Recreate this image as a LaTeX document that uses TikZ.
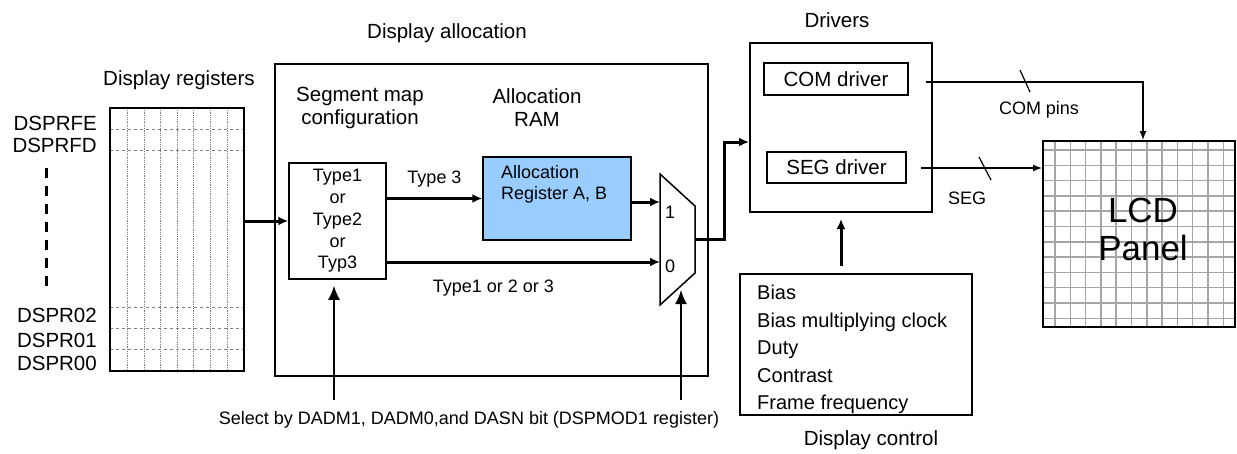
\documentclass[tikz,border=0pt]{standalone}
\usepackage{fontspec}
\setmainfont{Liberation Sans}
\usetikzlibrary{arrows.meta, fit}
\definecolor{ramblue}{RGB}{153,204,255}
\definecolor{gridgray}{RGB}{165,165,165}

\begin{document}
\begin{tikzpicture}[x=1pt, y=-1pt, font=\fontsize{20.5}{23}\selectfont,
		every node/.style={inner sep=0pt},
		box/.style={draw, line width=2pt, inner sep=0pt},
		small/.style={font=\fontsize{18}{21.7}\selectfont},
		bus/.style={-{Latex[length=10pt,width=9pt]}, line width=3pt, line join=miter},
		sel/.style={-{Latex[length=14pt,width=12pt]}, line width=1.8pt},
		wire/.style={-{Latex[length=9pt,width=7pt]}, line width=1.2pt}]
	\useasboundingbox (0,0) rectangle (1237,453);
	% Display registers
	\foreach \x in {127,144,160,177,193,210,227} \draw[gray, densely dotted, line width=0.8pt] (\x,108) -- (\x,371);
	\foreach \y in {129,150,307,328,349} \draw[gray, dashed, line width=0.8pt] (110,\y) -- (244,\y);
	\node[box, line width=1.5pt, fit={(110,108) (244,371)}] (regs) {};
	\node (regslbl) at (179,80) {Display registers};
	\foreach \reg/\y in {DSPRFE/123, DSPRFD/145, DSPR02/315, DSPR01/340, DSPR00/363}
		\node[anchor=east] (\reg) at (97,\y) {\reg};
	\draw[line width=3pt, dash pattern=on 10pt off 8pt] (46,168) -- (46,290);
	% Display allocation
	\node[box, fit={(275,64) (708,376)}] (alloc) {};
	\node (alloclbl) at (447,33) {Display allocation};
	\node[align=center] (segmap) at (360,108) {Segment map\\configuration};
	\node[align=center] (ramlbl) at (537,108) {Allocation\\RAM};
	\node[box, line width=1.5pt, fit={(289,163) (386,279)}] (types) {};
	\node[small, align=center] (typetxt) at (types.center) {Type1\\or\\Type2\\or\\Typ3};
	\node[box, line width=1.5pt, fill=ramblue, fit={(483,157) (631,240)}] (ram) {};
	\node[small, align=left, anchor=north west] (ramtxt) at (501,165) {Allocation\\Register A, B};
	% Multiplexer
	\draw[line width=1.5pt] (660,174) -- (695,206) -- (695,273) -- (660,305) -- cycle;
	\coordinate (in1) at (660,202);
	\coordinate (in0) at (660,262);
	\coordinate (muxout) at (695,239);
	\coordinate (muxsel) at (681,290);
	\node[small] (one) at (670,212) {1};
	\node[small] (zero) at (670,266) {0};
	% Drivers
	\node[box, fit={(750,43) (932,212)}] (drivers) {};
	\node (drvlbl) at (837,20) {Drivers};
	\node[box, fit={(764,63) (908,95)}] (comdrv) {};
	\node (comtxt) at (comdrv.center) {COM driver};
	\node[box, fit={(767,152) (906,183)}] (segdrv) {};
	\node (segtxt) at (segdrv.center) {SEG driver};
	% Datenpfad
	\draw[bus] (regs.east |- types.west) -- (types.west);
	\draw[bus] (types.east |- ram.west) -- node[small, above=10pt] {Type 3} (ram.west);
	\draw[bus] (ram.east |- in1) -- (in1);
	\draw[bus] (types.east |- in0) -- node[small, pos=0.39, below=16pt] {Type1 or 2 or 3} (in0);
	\coordinate (bend) at (724,142);
	\draw[bus] (muxout) -| (bend) -- (drivers.west |- bend);
	% Auswahl
	\coordinate (selA) at (334,400);
	\coordinate (selB) at (681,400);
	\draw[sel, shorten >=6pt] (selA) -- (selA |- types.south);
	\draw[sel] (selB) -- (muxsel);
	\node[small] (seltxt) at (469,420) {Select by DADM1, DADM0,and DASN bit (DSPMOD1 register)};
	% Display control
	\node[box, fit={(740,274) (972,415)}] (dispctl) {};
	\node[font=\fontsize{20}{27.5}\selectfont, align=left, anchor=north west] (ctltxt) at (757,285)
		{Bias\\Bias multiplying clock\\Duty\\Contrast\\Frame frequency};
	\node (ctllbl) at (871,440) {Display control};
	\draw[bus, shorten <=7pt, shorten >=6pt] (drivers.south |- dispctl.north) -- (drivers.south);
	% LCD panel
	\foreach \i in {0,...,11} \draw[gridgray, line width=1.5pt] ({1055+15.3*\i},141) -- ++(0,186);
	\foreach \i in {0,...,11} \draw[gridgray, line width=1.5pt] (1043,{150+15.3*\i}) -- ++(192,0);
	\node[box, fit={(1043,141) (1235,327)}] (lcd) {};
	\node[font=\fontsize{35}{38}\selectfont, align=center] (lcdtxt) at (1143,229) {LCD\\Panel};
	% COM / SEG
	\coordinate (comout) at (926,82);
	\coordinate (segout) at (921,168);
	\draw[wire] (comout) -| ([xshift=4pt]lcd.north);
	\draw[wire] (segout) -- (segout -| lcd.west);
	\draw[line width=1.2pt] (1020,70) -- (1030,92);
	\draw[line width=1.2pt] (979,157) -- (991,180);
	\node[small] (compins) at (1039,110) {COM pins};
	\node[small] (seglbl) at (967,198) {SEG};
\end{tikzpicture}
\end{document}
